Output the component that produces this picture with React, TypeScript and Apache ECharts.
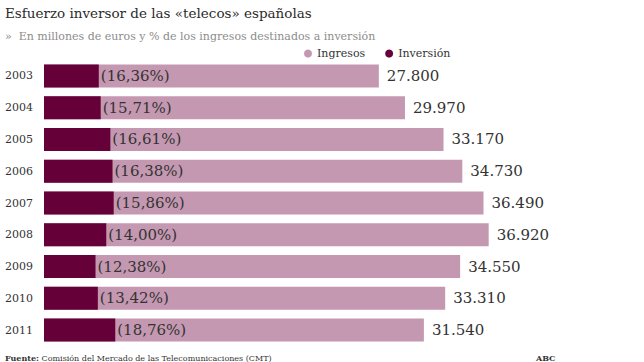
import React, { useEffect, useRef } from "react";
import * as echarts from "echarts";

const years = ["2003", "2004", "2005", "2006", "2007", "2008", "2009", "2010", "2011"];
const ingresos = [27800, 29970, 33170, 34730, 36490, 36920, 34550, 33310, 31540];
const inversionPct = ["16,36", "15,71", "16,61", "16,38", "15,86", "14,00", "12,38", "13,42", "18,76"];
const inversion = [4548, 4708, 5510, 5689, 5787, 5169, 4277, 4470, 5917];

const PINK = "#c598b1";
const DARK = "#660039";
const FONT = "DejaVu Serif";

const fmt = (v: number) => {
  const s = String(Math.round(v));
  return s.replace(/\B(?=(\d{3})+(?!\d))/g, ".");
};

export default function App() {
  const ref = useRef<HTMLDivElement>(null);
  useEffect(() => {
    if (!ref.current) return;
    const chart = echarts.init(ref.current, null, { renderer: "svg" });
    chart.setOption({
      animation: false,
      textStyle: { fontFamily: FONT },
      title: [
        {
          text: "Esfuerzo inversor de las «telecos» españolas",
          left: 0,
          top: 1,
          textStyle: { fontFamily: FONT, fontSize: 13.5, fontWeight: "normal", color: "#2b2b2b" },
        },
        {
          text: "»  En millones de euros y % de los ingresos destinados a inversión",
          left: 0,
          top: 26,
          textStyle: { fontFamily: FONT, fontSize: 11, fontWeight: "normal", color: "#8c8c8c" },
        },
        {
          text: "{b|Fuente:} Comisión del Mercado de las Telecomunicaciones (CMT)",
          left: 0,
          top: 349,
          textStyle: {
            fontFamily: FONT,
            fontSize: 8,
            fontWeight: "normal",
            color: "#333",
            rich: { b: { fontFamily: FONT, fontSize: 8, fontWeight: "bold", color: "#333" } },
          },
        },
        {
          text: "ABC",
          left: 531,
          top: 349,
          textStyle: { fontFamily: FONT, fontSize: 8, fontWeight: "bold", color: "#333" },
        },
      ],
      legend: {
        left: 299,
        top: 43,
        icon: "circle",
        itemWidth: 8,
        itemHeight: 8,
        itemGap: 20,
        textStyle: { fontFamily: FONT, fontSize: 11, color: "#333" },
        data: ["Ingresos", "Inversión"],
      },
      grid: { left: 44, right: 58, top: 60, bottom: 16 },
      xAxis: {
        type: "value",
        min: 0,
        max: 45000,
        show: false,
      },
      yAxis: {
        type: "category",
        data: years,
        inverse: true,
        axisLine: { show: false },
        axisTick: { show: false },
        axisLabel: { fontFamily: FONT, fontSize: 11, color: "#333", margin: 11 },
      },
      series: [
        {
          name: "Ingresos",
          type: "bar",
          data: ingresos,
          barWidth: 23,
          itemStyle: { color: PINK },
          label: {
            show: true,
            position: "right",
            distance: 8,
            formatter: (p: any) => fmt(p.value),
            fontFamily: FONT,
            fontSize: 15,
            color: "#333",
          },
        },
        {
          name: "Inversión",
          type: "bar",
          data: inversion,
          barWidth: 23,
          barGap: "-100%",
          itemStyle: { color: DARK },
          label: {
            show: true,
            position: "right",
            distance: 2,
            formatter: (p: any) => "(" + inversionPct[p.dataIndex] + "%)",
            fontFamily: FONT,
            fontSize: 15,
            color: "#333",
          },
        },
      ],
    });
    return () => chart.dispose();
  }, []);
  return <div ref={ref} style={{ width: 644, height: 362, position: "absolute", left: 0, top: 0 }} />;
}
